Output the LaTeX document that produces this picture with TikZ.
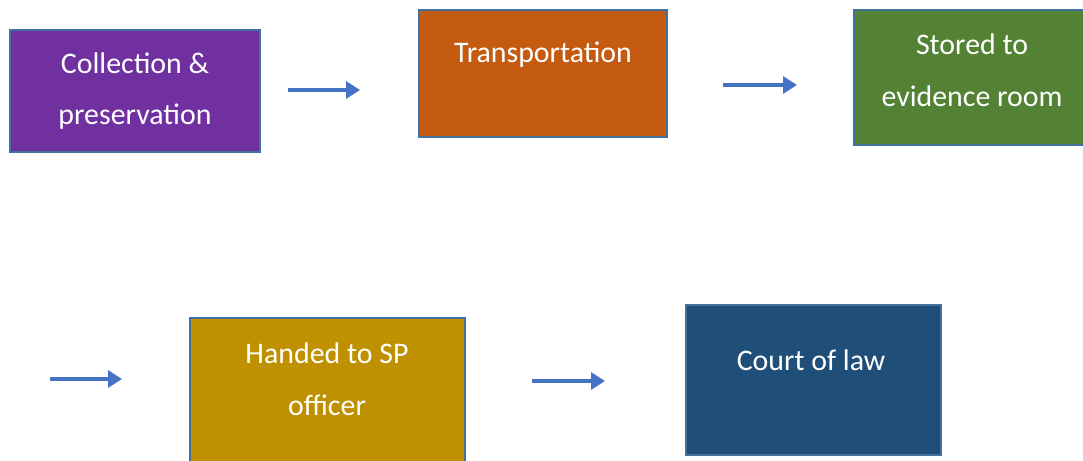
\documentclass[tikz,border=0pt]{standalone}
\usepackage{fontspec}
\setmainfont{Carlito}
\usetikzlibrary{arrows.meta}
\definecolor{boxpurple}{HTML}{7030A0}
\definecolor{boxorange}{HTML}{C55A11}
\definecolor{boxgreen}{HTML}{548235}
\definecolor{boxgold}{HTML}{BF9000}
\definecolor{boxnavy}{HTML}{1F4E79}
\definecolor{boxline}{HTML}{41719C}
\definecolor{arrowblue}{HTML}{4472C4}
\begin{document}
\begin{tikzpicture}[
  stage/.style={draw=boxline, line width=0.7pt, rectangle, inner sep=0pt},
  stagetext/.style={text=white, align=center, font=\fontsize{17}{29.5}\selectfont},
  flow/.style={draw=arrowblue, line width=1.8pt, -{Triangle[length=0.28cm,width=0.34cm]}}
]
  \useasboundingbox (0,0) rectangle (21.66,-9.2);

  % Stage boxes
  \node[stage, fill=boxpurple, minimum width=5.0cm, minimum height=2.44cm] (collect) at (2.7,-1.82) {};
  \node[stage, fill=boxorange, minimum width=4.96cm, minimum height=2.54cm] (transport) at (10.86,-1.47) {};
  \node[stage, fill=boxgreen, minimum width=4.92cm, minimum height=2.7cm] (store) at (19.54,-1.55) {};
  \node[stage, fill=boxgold, minimum width=5.5cm, minimum height=3.04cm] (hand) at (6.55,-7.88) {};
  \node[stage, fill=boxnavy, minimum width=5.1cm, minimum height=3.0cm] (court) at (16.27,-7.6) {};

  % Labels
  \node[stagetext] (collectlbl) at (2.7,-1.82) {Collection \&\\preservation};
  \node[stagetext] (transportlbl) at (10.86,-1.1) {Transportation};
  \node[stagetext] (storelbl) at (19.44,-1.4) {Stored to\\evidence room};
  \node[stagetext] (handlbl) at (6.54,-7.58) {Handed to SP\\officer};
  \node[stagetext] (courtlbl) at (16.22,-7.2) {Court of law};

  % Arrows
  \coordinate (f1s) at (5.76,-1.8);  \coordinate (f1e) at (7.2,-1.8);
  \coordinate (f2s) at (14.46,-1.7); \coordinate (f2e) at (15.94,-1.7);
  \coordinate (f3s) at (1.0,-7.58);  \coordinate (f3e) at (2.44,-7.58);
  \coordinate (f4s) at (10.64,-7.62); \coordinate (f4e) at (12.1,-7.62);
  \draw[flow] (f1s) -- (f1e);
  \draw[flow] (f2s) -- (f2e);
  \draw[flow] (f3s) -- (f3e);
  \draw[flow] (f4s) -- (f4e);
\end{tikzpicture}
\end{document}
